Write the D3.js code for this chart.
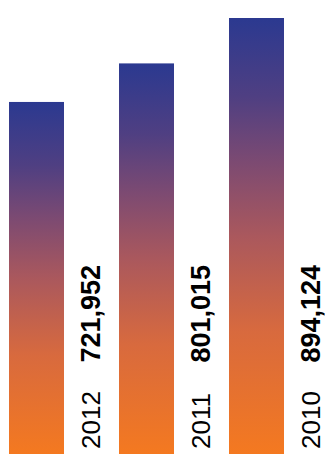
<!DOCTYPE html>
<html>
<head>
<meta charset="utf-8">
<script src="https://cdn.jsdelivr.net/npm/d3@7"></script>
<style>
  html, body { margin: 0; padding: 0; background: #fff; }
  svg { display: block; }
</style>
</head>
<body>
<script>
const years = ["2012", "2011", "2010"];
const values = [721952, 801015, 894124];
const valueLabels = ["721,952", "801,015", "894,124"];

const W = 325, H = 454;
const svg = d3.select("body").append("svg").attr("width", W).attr("height", H);

const defs = svg.append("defs");
const grad = defs.append("linearGradient")
  .attr("id", "barGrad")
  .attr("x1", 0).attr("y1", 0).attr("x2", 0).attr("y2", 1);
const stops = [
  [0, "#2b3990"], [0.18, "#4f3f82"], [0.33, "#7c4a72"],
  [0.5, "#aa585d"], [0.72, "#d86a3e"], [1, "#f47920"]
];
stops.forEach(s => grad.append("stop").attr("offset", s[0]).attr("stop-color", s[1]));

const x = d3.scaleBand().domain(years).range([9, 284]).paddingInner(0.5).paddingOuter(0);
const y = d3.scaleLinear().domain([0, d3.max(values)]).range([H, 18]);

const data = years.map((yr, i) => ({ year: yr, value: values[i], label: valueLabels[i] }));

svg.selectAll("rect.bar").data(data).join("rect")
  .attr("class", "bar")
  .attr("x", d => x(d.year))
  .attr("y", d => y(d.value))
  .attr("width", x.bandwidth())
  .attr("height", d => H - y(d.value))
  .attr("fill", "url(#barGrad)");

const labelX = d => x(d.year) + x.bandwidth() + 36;

svg.selectAll("text.year").data(data).join("text")
  .attr("class", "year")
  .attr("transform", d => `translate(${labelX(d)},449) rotate(-90)`)
  .attr("text-anchor", "start")
  .attr("font-family", "Liberation Sans, Arial, sans-serif")
  .attr("font-size", 26)
  .attr("font-weight", 400)
  .attr("fill", "#000")
  .text(d => d.year);

svg.selectAll("text.val").data(data).join("text")
  .attr("class", "val")
  .attr("transform", d => `translate(${labelX(d)},265) rotate(-90)`)
  .attr("text-anchor", "end")
  .attr("font-family", "Liberation Sans, Arial, sans-serif")
  .attr("font-size", 27)
  .attr("font-weight", 700)
  .attr("fill", "#000")
  .text(d => d.label);
</script>
</body>
</html>
